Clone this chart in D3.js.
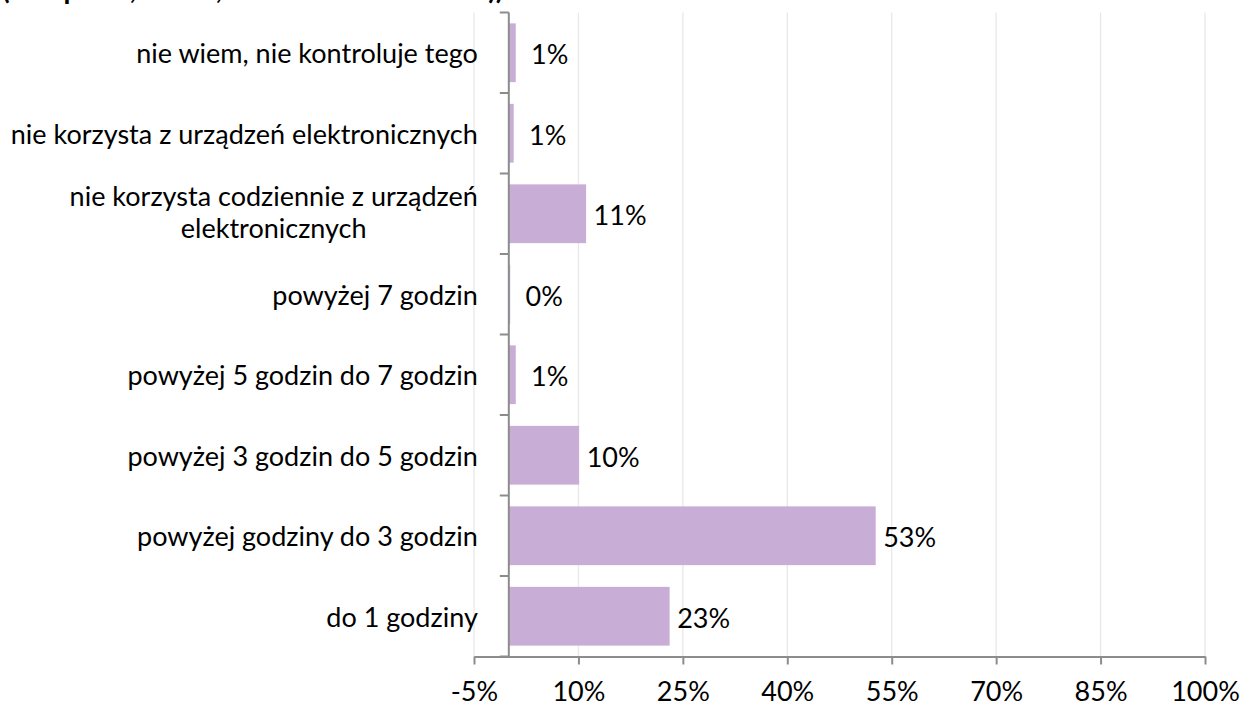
<!DOCTYPE html>
<html><head><meta charset="utf-8">
<script src="https://cdn.jsdelivr.net/npm/d3@7"></script>
<style>
html,body{margin:0;padding:0;background:#fff;}
svg{display:block;font-family:Lato,"Open Sans",sans-serif;}
</style></head>
<body>
<svg id="chart" width="1240" height="703"></svg>
<script>
const titleText = "(komputer, tablet, smartfon lub konsola))";
const categories = [
  ["nie wiem, nie kontroluje tego"],
  ["nie korzysta z urządzeń elektronicznych"],
  ["nie korzysta codziennie z urządzeń", "elektronicznych"],
  ["powyżej 7 godzin"],
  ["powyżej 5 godzin do 7 godzin"],
  ["powyżej 3 godzin do 5 godzin"],
  ["powyżej godziny do 3 godzin"],
  ["do 1 godziny"]
];
const values = [1.0, 0.7, 11.1, 0.2, 1.0, 10.1, 52.7, 23.1];
const xTicks = [-5, 10, 25, 40, 55, 70, 85, 100];

const svg = d3.select("#chart");
const m = {left: 474, right: 1205, top: 12.5, bottom: 656.5};
const x = d3.scaleLinear().domain([-5, 100]).range([m.left, m.right]);
const y = d3.scaleBand().domain(d3.range(categories.length)).range([m.top, m.bottom]).paddingInner(0.27).paddingOuter(0.135);
const yb = d3.scaleLinear().domain([0, categories.length]).range([m.top, m.bottom]);
const fs = 27;

// title (clipped at top)
svg.append("text").attr("x", 2).attr("y", -1).attr("font-weight", "bold")
  .attr("font-size", 28).attr("fill", "#000").text(titleText);

// gridlines
svg.append("g").selectAll("line").data(xTicks).join("line")
  .attr("x1", d => x(d)).attr("x2", d => x(d))
  .attr("y1", m.top).attr("y2", m.bottom)
  .attr("stroke", "#e8e8e8").attr("stroke-width", 1.3);

// bars
svg.append("g").selectAll("rect").data(values).join("rect")
  .attr("x", x(0)).attr("y", (d, i) => y(i))
  .attr("width", d => x(d) - x(0)).attr("height", y.bandwidth())
  .attr("fill", "#c8aed6");

// x axis
const xa = svg.append("g").attr("transform", `translate(0,${m.bottom})`)
  .call(d3.axisBottom(x).tickValues(xTicks).tickFormat(d => d + "%").tickSize(8).tickSizeOuter(0));
xa.select(".domain").attr("stroke", "#8c8c8c").attr("stroke-width", 2);
xa.selectAll(".tick line").attr("stroke", "#8c8c8c").attr("stroke-width", 2);
xa.selectAll("text").attr("font-size", fs).attr("fill", "#000").attr("font-family", "Lato")
  .attr("y", 44).attr("dy", 0);

// y axis line and ticks
svg.append("line").attr("x1", x(0)).attr("x2", x(0)).attr("y1", m.top).attr("y2", m.bottom)
  .attr("stroke", "#8c8c8c").attr("stroke-width", 2);
svg.append("g").selectAll("line").data(d3.range(categories.length + 1)).join("line")
  .attr("x1", x(0) - 9).attr("x2", x(0))
  .attr("y1", d => yb(d)).attr("y2", d => yb(d))
  .attr("stroke", "#8c8c8c").attr("stroke-width", 2);

// category labels
const cl = svg.append("g").selectAll("text").data(categories).join("text")
  .attr("font-size", fs).attr("fill", "#000").attr("text-anchor", "middle");
cl.each(function(lines, i) {
  const t = d3.select(this);
  const cy = y(i) + y.bandwidth() / 2;
  const lh = 32;
  lines.forEach((ln, j) => {
    t.append("tspan").attr("y", cy + (j - (lines.length - 1) / 2) * lh)
      .attr("dy", lines.length > 1 ? "0.3em" : "0.38em").text(ln);
  });
});
// right-align label blocks; center lines within block
cl.each(function(lines) {
  const t = d3.select(this);
  const ws = [];
  t.selectAll("tspan").each(function() { ws.push(this.getComputedTextLength()); });
  const maxW = d3.max(ws);
  const cx = x(0) - 31 - maxW / 2;
  t.selectAll("tspan").attr("x", cx);
});

// value labels (centered at fixed offset beyond bar end)
svg.append("g").selectAll("text").data(values).join("text")
  .attr("x", d => x(d) + 34).attr("y", (d, i) => y(i) + y.bandwidth() / 2)
  .attr("dy", "0.42em").attr("font-size", fs).attr("fill", "#000").attr("text-anchor", "middle")
  .text(d => Math.round(d) + "%");
</script>
</body></html>
